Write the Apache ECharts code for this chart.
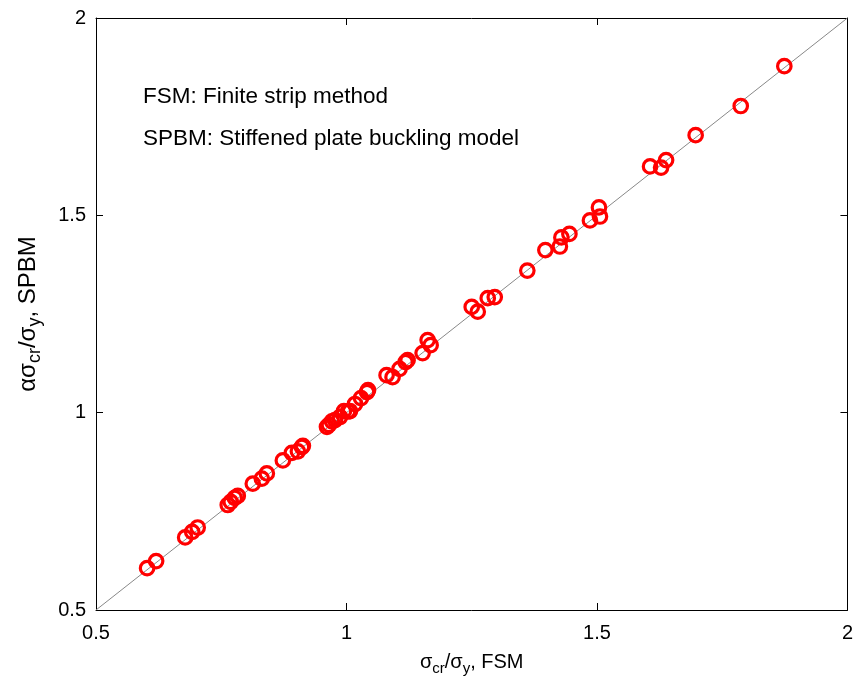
<!DOCTYPE html>
<html>
<head>
<meta charset="utf-8">
<script src="https://cdn.jsdelivr.net/npm/echarts@6/dist/echarts.min.js"></script>
<style>html,body{margin:0;padding:0;background:#fff;}#c{width:856px;height:686px;}</style>
</head>
<body>
<div id="c"></div>
<script>
// sigma_cr/sigma_y from FSM (x) and alpha*sigma_cr/sigma_y from SPBM (y)
var fsm = [0.602,0.620,0.678,0.692,0.703,0.763,0.769,0.777,0.783,0.813,0.831,0.841,0.873,0.891,0.903,0.911,0.913,
  0.961,0.965,0.971,0.977,0.987,0.995,1.003,1.007,1.017,1.029,1.041,1.043,1.080,1.092,1.106,1.118,1.122,1.152,1.162,1.168,
  1.250,1.262,1.282,1.296,1.361,1.397,1.426,1.429,1.445,1.486,1.506,1.504,1.606,1.628,1.638,1.697,1.787,1.874];
var spbm = [0.606,0.624,0.684,0.698,0.709,0.766,0.774,0.784,0.789,0.820,0.833,0.846,0.879,0.898,0.902,0.913,0.916,
  0.964,0.969,0.978,0.981,0.989,1.004,1.003,1.004,1.022,1.037,1.052,1.057,1.095,1.090,1.111,1.128,1.133,1.151,1.184,1.171,
  1.268,1.256,1.290,1.293,1.360,1.412,1.421,1.444,1.453,1.487,1.497,1.520,1.624,1.621,1.640,1.703,1.777,1.878];
var refLineX = [0.5, 2];
var refLineY = [0.5, 2];
var notes = ['FSM: Finite strip method', 'SPBM: Stiffened plate buckling model'];

var FONT = "'Liberation Sans', Arial, sans-serif";
var pts = fsm.map(function (v, i) { return [v, spbm[i]]; });
var linePts = refLineX.map(function (v, i) { return [v, refLineY[i]]; });

var richX = {
  n: { fontSize: 20, fontFamily: FONT, color: '#000', lineHeight: 28, verticalAlign: 'middle' },
  s: { fontSize: 15, fontFamily: FONT, color: '#000', lineHeight: 15, verticalAlign: 'bottom' }
};
var richY = {
  n: { fontSize: 24, fontFamily: FONT, color: '#000', lineHeight: 32, verticalAlign: 'middle' },
  s: { fontSize: 18, fontFamily: FONT, color: '#000', lineHeight: 18, verticalAlign: 'bottom' }
};

function axisBase(pos, showLabel) {
  return {
    type: 'value', min: 0.5, max: 2, interval: 0.5, position: pos,
    axisLine: { show: true, onZero: false, lineStyle: { color: '#000', width: 1 } },
    axisTick: { show: true, inside: true, length: 7, lineStyle: { color: '#000' } },
    axisLabel: { show: showLabel, fontSize: 20, fontFamily: FONT, color: '#000', margin: pos === 'bottom' ? 13 : 10,
      formatter: function (v) { return String(v); } },
    splitLine: { show: false }
  };
}

var xBottom = axisBase('bottom', true);
xBottom.name = '{n|σ}{s|cr}{n|/σ}{s|y}{n|, FSM}';
xBottom.nameLocation = 'middle';
xBottom.nameGap = 38;
xBottom.nameTextStyle = { rich: richX };
var xTop = axisBase('top', false);
var yLeft = axisBase('left', true);
yLeft.name = '{n|ασ}{s|cr}{n|/σ}{s|y}{n|, SPBM}';
yLeft.nameLocation = 'middle';
yLeft.nameGap = 52;
yLeft.nameRotate = 90;
yLeft.nameTextStyle = { rich: richY };
var yRight = axisBase('right', false);

var chart = echarts.init(document.getElementById('c'), null, { renderer: 'canvas' });
chart.setOption({
  backgroundColor: '#fff',
  animation: false,
  grid: { left: 96, right: 8, top: 18, bottom: 76, containLabel: false },
  xAxis: [xBottom, xTop],
  yAxis: [yLeft, yRight],
  graphic: [
    { type: 'text', x: 143, y: 97, style: { text: notes[0], fontSize: 22.5, fontFamily: FONT, fill: '#000', verticalAlign: 'middle' } },
    { type: 'text', x: 143, y: 139, style: { text: notes[1], fontSize: 22.5, fontFamily: FONT, fill: '#000', verticalAlign: 'middle' } }
  ],
  series: [
    { type: 'line', xAxisIndex: 0, yAxisIndex: 0, data: linePts, symbol: 'none',
      lineStyle: { color: '#888', width: 1 }, z: 1 },
    { type: 'scatter', xAxisIndex: 0, yAxisIndex: 0, data: pts, symbol: 'circle', symbolSize: 13.5,
      itemStyle: { color: 'rgba(255,255,255,0)', borderColor: '#ff0000', borderWidth: 3.2, opacity: 1 }, z: 3 }
  ]
});
</script>
</body>
</html>
